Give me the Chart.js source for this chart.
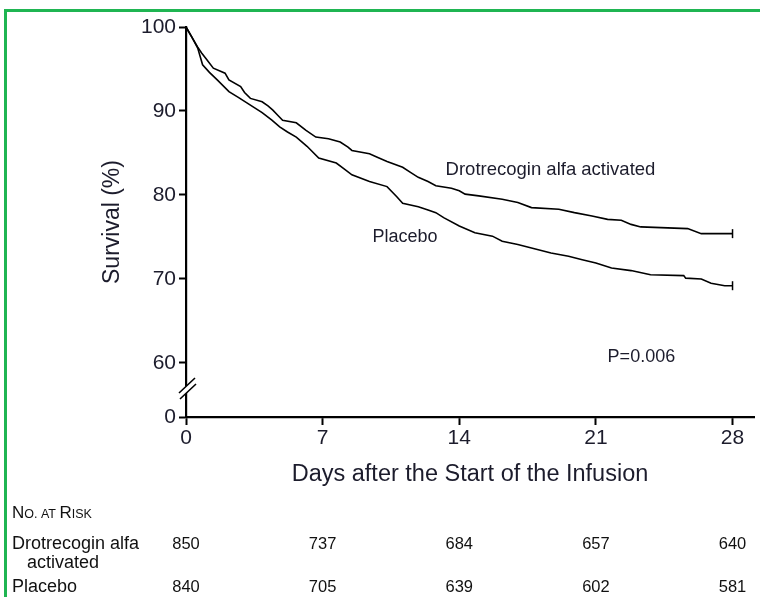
<!DOCTYPE html>
<html><head><meta charset="utf-8">
<script src="https://cdn.jsdelivr.net/npm/chart.js@4/dist/chart.umd.min.js"></script>
<style>
html,body{margin:0;padding:0;background:#fff;}
#wrap{position:relative;width:760px;height:597px;overflow:hidden;}
#frame{position:absolute;left:4px;top:9px;right:-10px;bottom:-10px;border-left:3px solid #1fb552;border-top:3px solid #1fb552;pointer-events:none;}
</style></head>
<body>
<div id="wrap"><canvas id="c" width="760" height="597"></canvas><div id="frame"></div></div>
<script>
// ---- data ----
const drotDays = [0,0.3,0.6,0.8,1.0,1.4,2.0,2.2,2.8,3.0,3.3,3.9,4.2,4.45,4.7,4.95,5.65,6.15,6.65,7.3,7.9,8.3,8.5,9.4,9.8,10.3,11.1,11.5,11.9,12.4,12.8,13.6,14.0,14.3,15.0,16.2,17.0,17.7,19.1,19.9,20.8,21.6,22.3,22.8,23.3,25.7,26.4,28.0];
const drotSurv = [100,98.8,97.6,96.9,96.3,95.1,94.5,93.7,92.9,92.2,91.5,91.1,90.6,90.1,89.5,88.9,88.6,87.7,86.9,86.7,86.3,85.7,85.3,84.9,84.5,84.0,83.3,82.7,82.1,81.6,81.1,80.8,80.5,80.1,79.9,79.5,79.1,78.5,78.3,77.9,77.5,77.1,77.0,76.5,76.2,76.0,75.4,75.4];
const placDays = [0,0.3,0.6,0.85,1.2,1.6,2.2,2.7,3.1,3.5,3.9,4.4,4.8,5.2,5.65,6.2,6.8,7.7,8.1,8.5,9.4,10.3,10.8,11.1,11.9,12.4,12.8,13.2,14.0,14.8,15.7,16.2,17.0,17.7,18.7,19.6,20.3,21.0,21.8,22.8,23.8,25.5,25.6,26.4,26.9,27.6,28.0];
const placSurv = [100,98.8,97.5,95.5,94.6,93.7,92.3,91.6,91.0,90.4,89.8,88.9,88.1,87.5,86.9,85.8,84.4,83.8,83.1,82.4,81.6,81.0,79.8,79.0,78.6,78.2,77.9,77.3,76.3,75.5,75.1,74.5,74.1,73.7,73.1,72.7,72.3,71.9,71.3,71.0,70.5,70.4,70.1,70.0,69.5,69.2,69.2];
const xTickValues = [0,7,14,21,28];
const yTickValues = [60,70,80,90,100];
const yZeroLabel = '0';
const riskDays = [0,7,14,21,28];
const riskDrot = [850,737,684,657,640];
const riskPlac = [840,705,639,602,581];
const seriesNames = ['Drotrecogin alfa activated','Placebo'];
const pValueText = 'P=0.006';
const xTitle = 'Days after the Start of the Infusion';
const yTitle = 'Survival (%)';

// layout constants (not data)
const Y_BOTTOM = 53.57; // value at the axis origin shown as "0" (broken axis)
const BREAK_AT = 56.9;
const FONT = '"Liberation Sans", Arial, Helvetica, sans-serif';
const TXT = '#1c1c2c';

function pts(d, s){ return d.map((v,i)=>({x:v,y:s[i]})); }
function endMarks(n){ return Array.from({length:n},(_,i)=> i===n-1 ? 4.5 : 0); }

const overlay = {
  id:'overlay',
  afterDraw(chart){
    const ctx = chart.ctx, xs = chart.scales.x, ys = chart.scales.y;
    const x0 = chart.chartArea.left;
    // axis break
    const yc = ys.getPixelForValue(BREAK_AT);
    ctx.save();
    ctx.fillStyle = '#fff';
    ctx.beginPath();
    ctx.moveTo(x0-6, yc+10); ctx.lineTo(x0+10, yc-5);
    ctx.lineTo(x0+9, yc-11); ctx.lineTo(x0-7, yc+4); ctx.closePath(); ctx.fill();
    ctx.strokeStyle = '#000'; ctx.lineWidth = 1.6;
    ctx.beginPath();
    ctx.moveTo(x0-6, yc+10); ctx.lineTo(x0+10, yc-5);
    ctx.moveTo(x0-7, yc+4); ctx.lineTo(x0+9, yc-11);
    ctx.stroke();
    // curve labels
    ctx.fillStyle = TXT; ctx.textBaseline = 'middle'; ctx.textAlign = 'left';
    ctx.font = '18.5px ' + FONT;
    ctx.fillText(seriesNames[0], xs.getPixelForValue(13.3), ys.getPixelForValue(83.0));
    ctx.font = '18px ' + FONT;
    ctx.fillText(seriesNames[1], xs.getPixelForValue(9.55), ys.getPixelForValue(75.0));
    ctx.fillText(pValueText, xs.getPixelForValue(21.6), ys.getPixelForValue(60.7));
    // number-at-risk table
    ctx.fillStyle = '#111';
    let x = 12, yH = 512;
    const big = '17px ' + FONT, small = '12.5px ' + FONT;
    [['N',big],['O. AT ',small],['R',big],['ISK',small]].forEach(([t,f])=>{
      ctx.font = f; ctx.textBaseline = 'alphabetic';
      ctx.fillText(t, x, yH+6); x += ctx.measureText(t).width;
    });
    ctx.textBaseline = 'middle';
    ctx.font = '18px ' + FONT;
    ctx.fillText('Drotrecogin alfa', 12, 544);
    ctx.fillText('activated', 27, 563);
    ctx.fillText(seriesNames[1], 12, 587);
    ctx.textAlign = 'center';
    ctx.font = '16.5px ' + FONT;
    riskDays.forEach((d,i)=>{
      const px = xs.getPixelForValue(d);
      ctx.fillText(String(riskDrot[i]), px, 544);
      ctx.fillText(String(riskPlac[i]), px, 587);
    });
    ctx.restore();
  }
};

new Chart(document.getElementById('c'), {
  type:'line',
  data:{ datasets:[
    { label:seriesNames[0], data:pts(drotDays,drotSurv), borderColor:'#000', borderWidth:1.6, tension:0,
      pointStyle:'line', rotation:90, pointRadius:endMarks(drotDays.length), pointBorderColor:'#000', pointBorderWidth:1.5, clip:false },
    { label:seriesNames[1], data:pts(placDays,placSurv), borderColor:'#000', borderWidth:1.6, tension:0,
      pointStyle:'line', rotation:90, pointRadius:endMarks(placDays.length), pointBorderColor:'#000', pointBorderWidth:1.5, clip:false }
  ]},
  options:{
    responsive:false, animation:false, devicePixelRatio:1,
    layout:{padding:{left:99, top:27, right:3, bottom:108}},
    plugins:{legend:{display:false}, tooltip:{enabled:false}},
    scales:{
      x:{ type:'linear', min:0, max:29.1,
        afterBuildTicks:s=>{ s.ticks = xTickValues.map(v=>({value:v})); },
        afterFit:s=>{ s.height = 72; },
        grid:{drawOnChartArea:false, drawTicks:true, tickLength:8, tickWidth:2, color:'#000'},
        border:{color:'#000', width:2.2},
        ticks:{font:{size:21, family:FONT}, color:TXT, padding:1, maxRotation:0, autoSkip:false},
        title:{display:true, text:xTitle, font:{size:23.5, family:FONT}, color:TXT, padding:0}
      },
      y:{ type:'linear', min:Y_BOTTOM, max:100,
        afterBuildTicks:s=>{ s.ticks = [Y_BOTTOM].concat(yTickValues).map(v=>({value:v})); },
        afterFit:s=>{ s.width = 87; },
        grid:{drawOnChartArea:false, drawTicks:true, tickLength:7, tickWidth:2, color:'#000'},
        border:{color:'#000', width:2.2},
        ticks:{font:{size:21, family:FONT}, color:TXT, padding:3, autoSkip:false,
          callback:v=> (Math.abs(v-Y_BOTTOM)<0.01 ? yZeroLabel : String(v))},
        title:{display:true, text:yTitle, font:{size:23, family:FONT}, color:TXT, padding:0}
      }
    }
  },
  plugins:[overlay]
});
</script>
</body></html>
